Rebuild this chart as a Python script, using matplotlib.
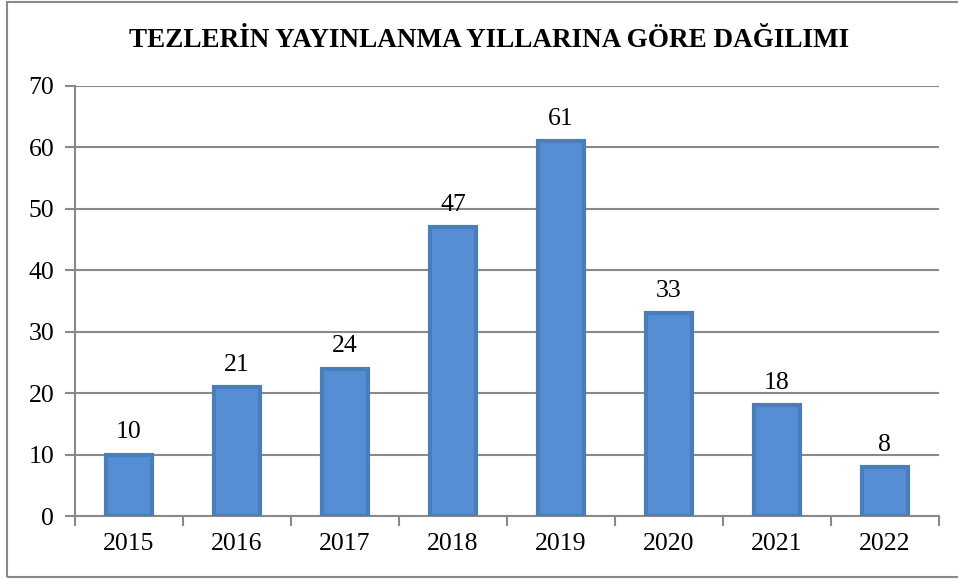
import matplotlib.pyplot as plt
import numpy as np
from matplotlib.patches import Rectangle

years = ['2015', '2016', '2017', '2018', '2019', '2020', '2021', '2022']
counts = [10, 21, 24, 47, 61, 33, 18, 8]
yticks = [0, 10, 20, 30, 40, 50, 60, 70]
title = 'TEZLERİN YAYINLANMA YILLARINA GÖRE DAĞILIMI'

plt.rcParams['font.family'] = ['Liberation Serif', 'DejaVu Serif']

fig = plt.figure(figsize=(9.58, 5.79), dpi=100)
ax = fig.add_axes([0.0783, 0.1088, 0.9017, 0.7427])

grey = '#898989'
x = np.arange(len(years))
bars = ax.bar(x, counts, width=0.42, color='#558ED5', edgecolor='#4A7EBB',
              linewidth=3, zorder=3)
for xi, v in zip(x, counts):
    ax.annotate(str(v), (xi, v), xytext=(0, 8), textcoords='offset points',
                ha='center', va='bottom', fontsize=18.5)

ax.set_xlim(-0.5, len(years) - 0.5)
ax.set_ylim(0, 70)
ax.set_yticks(yticks)
ax.set_yticklabels([str(t) for t in yticks], fontsize=18.5)
ax.set_xticks(np.arange(len(years) + 1) - 0.5)
ax.set_xticklabels([])
ax.set_xticks(x, minor=True)
ax.set_xticklabels(years, minor=True, fontsize=18.5)
ax.tick_params(axis='x', which='minor', length=0, pad=12)
ax.tick_params(axis='x', which='major', length=7, width=1.5, color=grey)
ax.tick_params(axis='y', length=7, width=1.5, color=grey, pad=8)
ax.yaxis.grid(True, color=grey, linewidth=1.5, zorder=0)
ax.set_axisbelow(True)
for s in ['top', 'right']:
    ax.spines[s].set_visible(False)
for s in ['left', 'bottom']:
    ax.spines[s].set_color(grey)
    ax.spines[s].set_linewidth(1.5)

fig.text(0.511, 0.93, title, ha='center', va='center', fontsize=19.5,
         fontweight='bold')
fig.patches.append(Rectangle((7 / 958, 1 - 577 / 579), 1.0, 575 / 579,
                             transform=fig.transFigure, fill=False,
                             edgecolor=grey, linewidth=1.5))

fig.savefig('out.png', dpi=100)
